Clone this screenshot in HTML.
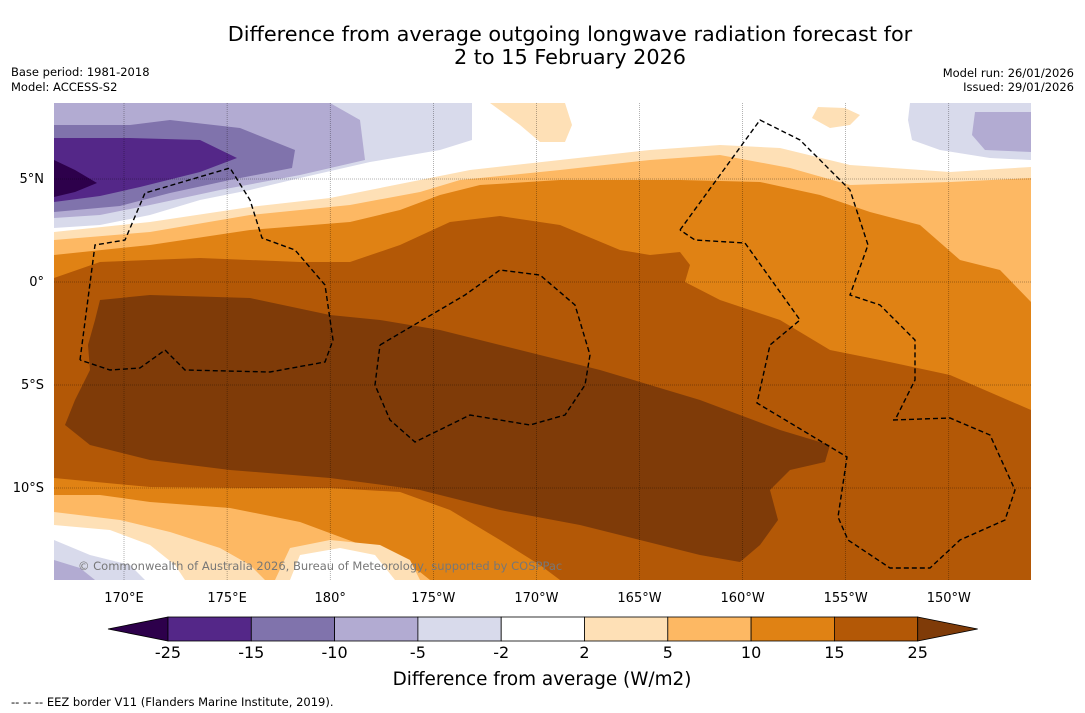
<!DOCTYPE html>
<html><head><meta charset="utf-8">
<style>
body{margin:0;background:#fff;font-family:"DejaVu Sans","Liberation Sans",sans-serif;}
svg{display:block}
</style></head>
<body>
<svg width="1085" height="713" viewBox="0 0 1085 713">
<text x="570" y="41" font-size="20.8" text-anchor="middle">Difference from average outgoing longwave radiation forecast for</text>
<text x="570" y="64" font-size="20.8" text-anchor="middle">2 to 15 February 2026</text>
<text x="11" y="76" font-size="11.5">Base period: 1981-2018</text>
<text x="11" y="91" font-size="11.5">Model: ACCESS-S2</text>
<text x="1074" y="77" font-size="11.5" text-anchor="end">Model run: 26/01/2026</text>
<text x="1074" y="91" font-size="11.5" text-anchor="end">Issued: 29/01/2026</text>
<defs><clipPath id="mc"><rect x="54" y="103" width="977" height="477"/></clipPath></defs>
<g id="map" clip-path="url(#mc)"></g>
<g id="grid"></g>
<g id="eez"></g>
<text x="78" y="570" font-size="11.5" fill="#777">© Commonwealth of Australia 2026, Bureau of Meteorology, supported by COSPPac</text>
<g id="ticks"></g>
<g id="cbar"></g>
<text x="542" y="685" font-size="18.4" text-anchor="middle">Difference from average (W/m2)</text>
<text x="11" y="706" font-size="11.5">--  --  -- EEZ border V11 (Flanders Marine Institute, 2019).</text>
</svg>
<script>
const levels=["-25","-15","-10","-5","-2","2","5","10","15","25"];
const colors=["#2d004b","#542788","#8073ac","#b2abd2","#d8daeb","#ffffff","#fee0b6","#fdb863","#e08214","#b35806","#7f3b08"];
const lonLabels=["170°E","175°E","180°","175°W","170°W","165°W","160°W","155°W","150°W"];
const latLabels=["5°N","0°","5°S","10°S"];
const NS="http://www.w3.org/2000/svg";
function mk(t,a,p){const e=document.createElementNS(NS,t);for(const k in a)e.setAttribute(k,a[k]);p.appendChild(e);return e;}
const lonX=i=>124+i*103.1, latY=i=>179+i*103;
const map=document.getElementById('map');
function poly(pts,fill,name){const e=mk('polygon',{points:pts,fill:fill},map);

}
mk('rect',{x:54,y:103,width:977,height:477,fill:"#fff"},map);
poly("54,232 150,222 250,207 330,198 420,180 470,170 560,160 650,150 720,145 780,148 850,165 950,172 1031,167 1031,580 54,580",colors[6],"band-2-5");
poly("54,240 150,232 250,215 350,205 420,192 460,180 560,170 650,160 720,155 790,168 850,185 950,182 1031,178 1031,580 54,580",colors[7],"band-5-10");
poly("54,255 150,245 250,230 350,222 400,210 440,195 480,185 560,180 680,180 760,182 820,195 870,212 920,225 960,260 1000,270 1031,302 1031,580 54,580",colors[8],"band-10-15");
poly("54,278 100,262 200,258 300,262 350,262 400,245 450,222 500,216 560,225 620,250 650,255 680,252 690,265 685,282 720,300 780,320 830,350 880,360 950,375 1031,410 1031,580 54,580",colors[9],"band-15-25");
poly("54,478 150,487 250,488 330,488 400,492 450,510 500,540 540,565 560,580 54,580",colors[8],"band-bottom-10-15");
poly("54,495 100,495 150,502 230,508 300,522 370,548 420,572 430,580 54,580",colors[7],"band-bottom-5-10");
poly("54,512 120,520 170,532 220,548 250,565 265,580 54,580",colors[6],"band-bottom-2-5");
poly("54,525 110,530 150,545 175,565 185,580 54,580",colors[5],"band-bottom-white");
poly("275,580 290,548 330,540 380,545 410,560 420,580",colors[6],"band-bottom-peach");
poly("290,580 300,555 340,548 375,555 395,580",colors[5],"bottom-white-blob");
poly("54,540 90,555 130,565 145,580 54,580",colors[4],"bottom-lavender");
poly("54,560 80,568 95,580 54,580",colors[3],"bottom-purple");
poly("100,300 150,295 250,298 330,315 380,320 440,330 520,350 600,370 700,400 780,430 830,445 825,462 790,470 770,490 778,520 760,545 740,562 700,555 640,540 580,525 500,510 420,490 330,478 230,470 150,460 90,445 65,425 75,400 90,370 88,345 95,320",colors[10],"band-above-25");
poly("54,103 472,103 472,140 440,150 370,162 300,178 250,190 200,200 150,215 100,225 54,228",colors[4],"band-minus5-minus2");
poly("54,103 330,103 360,120 365,160 300,175 220,190 150,205 100,215 54,218",colors[3],"band-minus10-minus5");
poly("54,125 130,125 170,120 240,128 295,150 292,168 230,180 170,193 120,206 54,212",colors[2],"band-minus15-minus10");
poly("54,138 130,138 200,140 237,158 200,172 140,187 100,196 54,202",colors[1],"band-minus25-minus15");
poly("54,160 75,170 97,183 75,192 54,197",colors[0],"band-below-minus25");
poly("490,103 565,103 572,125 565,142 540,142 520,125",colors[6],"peach-blob-top");
poly("818,107 845,108 860,115 850,125 830,128 812,118",colors[6],"peach-blob-right");
poly("910,103 1031,103 1031,160 990,158 940,150 912,140 908,120",colors[4],"lavender-top-right");
poly("975,112 1031,112 1031,152 985,150 972,135",colors[3],"purple-top-right");
const grid=document.getElementById('grid');
for(let i=0;i<lonLabels.length;i++)mk('line',{x1:lonX(i),x2:lonX(i),y1:103,y2:580,stroke:"#000","stroke-width":0.5,"stroke-dasharray":"1,1",opacity:0.6},grid);
for(let i=0;i<latLabels.length;i++)mk('line',{x1:54,x2:1031,y1:latY(i),y2:latY(i),stroke:"#000","stroke-width":0.5,"stroke-dasharray":"1,1",opacity:0.6},grid);
const eez=document.getElementById('eez');
["80,360 95,245 125,240 145,193 230,168 250,200 262,238 295,250 325,285 333,340 325,362 270,372 185,370 165,350 140,368 110,370 80,360",
"380,345 465,295 500,270 540,275 575,305 590,355 585,385 565,415 530,425 470,415 415,442 390,420 375,385 380,345",
"680,230 760,120 800,140 850,190 868,245 850,295 880,305 915,340 915,380 895,420",
"893,420 950,418 990,435 1015,490 1005,520 960,540 930,568 890,568 848,540 838,517 847,457 757,403 770,345 800,320 745,243 695,240 680,230"].forEach((p,i)=>{
const e=mk('polyline',{points:p,fill:"none",stroke:"#000","stroke-width":1.4,"stroke-dasharray":"5,3"},eez);

});
const ticks=document.getElementById('ticks');
lonLabels.forEach((l,i)=>{const t=mk('text',{x:lonX(i),y:602,"font-size":13,"text-anchor":"middle"},ticks);t.textContent=l;

});
latLabels.forEach((l,i)=>{const t=mk('text',{x:44,y:latY(i)+4,"font-size":13,"text-anchor":"end"},ticks);t.textContent=l;

});
const cb=document.getElementById('cbar');
const x0=168,w=83.3,y0=617,h=24;
let e=mk('polygon',{points:`108,${y0+h/2} ${x0},${y0} ${x0},${y0+h}`,fill:colors[0],stroke:"#000","stroke-width":0.8},cb);

for(let i=0;i<levels.length-1;i++){
e=mk('rect',{x:x0+i*w,y:y0,width:w,height:h,fill:colors[i+1],stroke:"#000","stroke-width":0.8},cb);

}
const xe=x0+(levels.length-1)*w;
e=mk('polygon',{points:`${xe},${y0} ${xe+60},${y0+h/2} ${xe},${y0+h}`,fill:colors[10],stroke:"#000","stroke-width":0.8},cb);

levels.forEach((l,i)=>{const t=mk('text',{x:x0+i*w,y:658,"font-size":16,"text-anchor":"middle"},cb);t.textContent=l;

});
</script>
</body></html>
